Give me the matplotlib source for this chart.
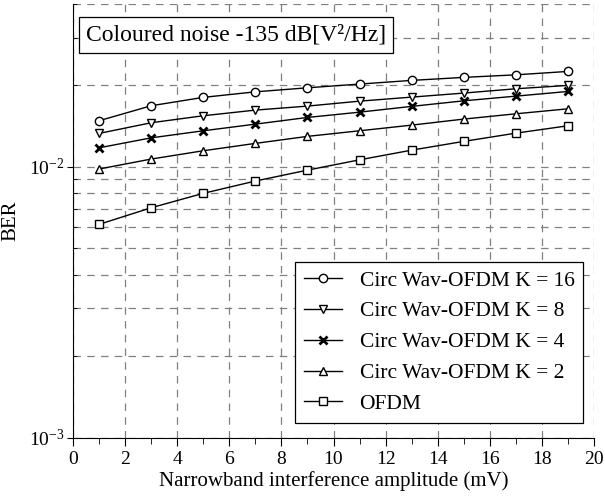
import numpy as np
import matplotlib
matplotlib.use('Agg')
import matplotlib.pyplot as plt
from matplotlib.ticker import LogLocator, NullFormatter, MultipleLocator

plt.rcParams['font.family'] = ['Liberation Serif', 'DejaVu Serif']
plt.rcParams['lines.linewidth'] = 1.0

amp = [1, 3, 5, 7, 9, 11, 13, 15, 17, 19]
ber_k16 = [0.01479, 0.01680, 0.01804, 0.01891, 0.01957, 0.02020, 0.02084, 0.02138, 0.02185, 0.02249]
ber_k8 = [0.01328, 0.01454, 0.01543, 0.01619, 0.01675, 0.01747, 0.01808, 0.01871, 0.01941, 0.01997]
ber_k4 = [0.01175, 0.01279, 0.01358, 0.01437, 0.01521, 0.01591, 0.01671, 0.01752, 0.01823, 0.01897]
ber_k2 = [0.00981, 0.01068, 0.01146, 0.01220, 0.01295, 0.01358, 0.01425, 0.01500, 0.01569, 0.01637]
ber_ofdm = [0.00613, 0.00706, 0.00798, 0.00886, 0.00972, 0.01061, 0.01152, 0.01241, 0.01331, 0.01417]

labels = ['Circ Wav-OFDM K = 16', 'Circ Wav-OFDM K = 8', 'Circ Wav-OFDM K = 4',
          'Circ Wav-OFDM K = 2', 'OFDM']

fig = plt.figure(figsize=(6.05, 5.04), dpi=100)
ax = fig.add_axes([0.1207, 0.1315, 0.8611, 0.8612])

ms = 6
ax.plot(amp, ber_k16, 'k-', marker='o', ms=ms, mfc='white', mec='k', label=labels[0])
ax.plot(amp, ber_k8, 'k-', marker='v', ms=ms, mfc='white', mec='k', label=labels[1])
ax.plot(amp, ber_k4, 'k-', marker='x', ms=ms, mew=2, mec='k', label=labels[2])
ax.plot(amp, ber_k2, 'k-', marker='^', ms=ms, mfc='white', mec='k', label=labels[3])
ax.plot(amp, ber_ofdm, 'k-', marker='s', ms=ms, mfc='white', mec='k', label=labels[4])

ax.set_yscale('log')
ax.set_xlim(0, 20)
ax.set_ylim(1e-3, 4e-2)
ax.xaxis.set_major_locator(MultipleLocator(2))
ax.xaxis.set_minor_locator(MultipleLocator(1))
ax.yaxis.set_major_locator(LogLocator(base=10))
ax.yaxis.set_minor_locator(LogLocator(base=10, subs=np.arange(2, 10)))
ax.yaxis.set_minor_formatter(NullFormatter())

ax.grid(True, which='major', axis='both', color='gray', linestyle=(0, (6, 5)), linewidth=0.9)
ax.grid(True, which='minor', axis='y', color='gray', linestyle=(0, (6, 5)), linewidth=0.9)

ax.spines['top'].set_visible(False)
ax.spines['right'].set_visible(False)
ax.tick_params(axis='x', which='major', direction='out', length=6, labelsize=14)
ax.tick_params(axis='x', which='minor', direction='out', length=4)
ax.tick_params(axis='y', which='major', direction='out', length=4, labelsize=14, pad=2)
ax.tick_params(axis='y', which='minor', direction='in', length=3)

ax.set_xlabel('Narrowband interference amplitude (mV)', fontsize=15, labelpad=2)
ax.set_ylabel('BER', fontsize=15, labelpad=6)

ax.text(0.025, 0.928, 'Coloured noise -135 dB[V²/Hz]', transform=ax.transAxes,
        fontsize=17, va='center', ha='left',
        bbox=dict(boxstyle='square,pad=0.3', fc='white', ec='black', lw=0.9))

leg = ax.legend(loc='lower right', bbox_to_anchor=(0.979, 0.035), borderaxespad=0,
                fontsize=15.5, fancybox=False, edgecolor='black', framealpha=1,
                handlelength=1.8, labelspacing=0.5)
leg.get_frame().set_linewidth(0.9)

fig.savefig('out.png', dpi=100)
